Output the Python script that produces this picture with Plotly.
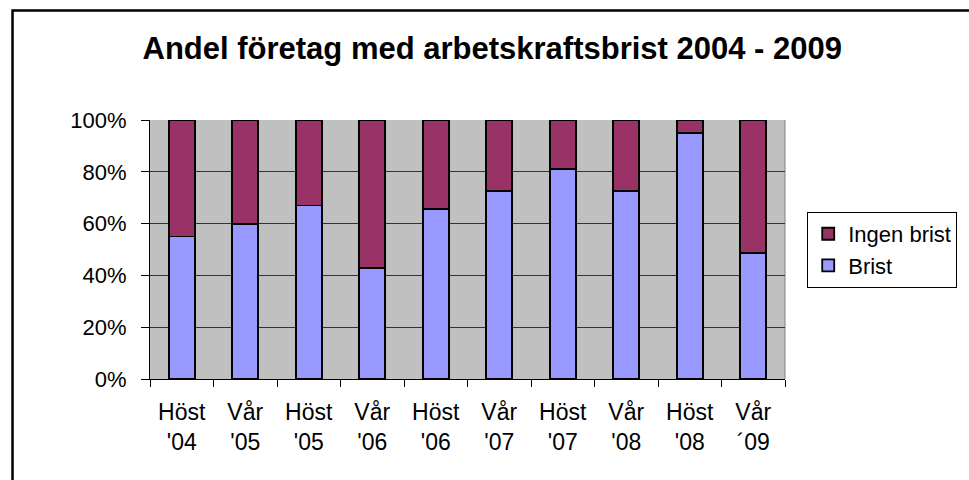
import plotly.graph_objects as go

categories = ["Höst<br>'04", "Vår<br>'05", "Höst<br>'05", "Vår<br>'06", "Höst<br>'06",
              "Vår<br>'07", "Höst<br>'07", "Vår<br>'08", "Höst<br>'08", "Vår<br>´09"]
brist = [55, 60, 67, 43, 65.5, 72.5, 81, 72.5, 95, 48.5]
ingen_brist = [45, 40, 33, 57, 34.5, 27.5, 19, 27.5, 5, 51.5]
y_ticks = [0, 20, 40, 60, 80, 100]
y_tick_labels = ["0%", "20%", "40%", "60%", "80%", "100%"]

FONT = "Liberation Sans, Arial, sans-serif"

fig = go.Figure()
fig.add_trace(go.Bar(x=categories, y=brist, name="Brist",
                     marker=dict(color="#9999FF", line=dict(color="black", width=1.8))))
fig.add_trace(go.Bar(x=categories, y=ingen_brist, name="Ingen brist",
                     marker=dict(color="#993366", line=dict(color="black", width=1.8))))

fig.update_layout(
    width=969, height=480,
    barmode="stack", bargap=0.59,
    paper_bgcolor="white", plot_bgcolor="#C0C0C0",
    margin=dict(l=150, r=184, t=120, b=101, autoexpand=False),
    font=dict(family=FONT, color="black"),
    title=dict(text="<b>Andel företag med arbetskraftsbrist 2004 - 2009</b>",
               x=0.508, xanchor="center", y=0.9, yanchor="middle",
               font=dict(size=31, family=FONT, color="black")),
    showlegend=True,
    legend=dict(x=1.035, xanchor="left", y=0.645, yanchor="top",
                traceorder="reversed", bordercolor="black", borderwidth=1,
                bgcolor="white", font=dict(size=22, family=FONT),
                itemwidth=30, tracegroupgap=0),
    xaxis=dict(showline=True, linecolor="black", linewidth=1,
               ticks="outside", ticklen=7, tickcolor="black", tickson="boundaries",
               tickfont=dict(size=23, family=FONT), showgrid=False,
               ticklabelstandoff=12),
    yaxis=dict(range=[0, 100], tickvals=y_ticks, ticktext=y_tick_labels,
               showline=True, linecolor="black", linewidth=1,
               ticks="outside", ticklen=8, tickcolor="black",
               showgrid=True, gridcolor="#333333", gridwidth=1,
               zeroline=False, tickfont=dict(size=22, family=FONT),
               ticklabelstandoff=10),
    shapes=[
        dict(type="rect", xref="paper", yref="paper",
             x0=-0.2165, x1=1.4, y0=-0.5, y1=1.4228,
             line=dict(color="black", width=2.5), layer="above"),
        dict(type="line", xref="paper", yref="paper", x0=1, x1=1, y0=0, y1=1,
             line=dict(color="#808080", width=1), layer="below"),
    ],
)

fig.write_html("out.html", config={"displayModeBar": False},
               post_script="document.body.style.margin='0';")
